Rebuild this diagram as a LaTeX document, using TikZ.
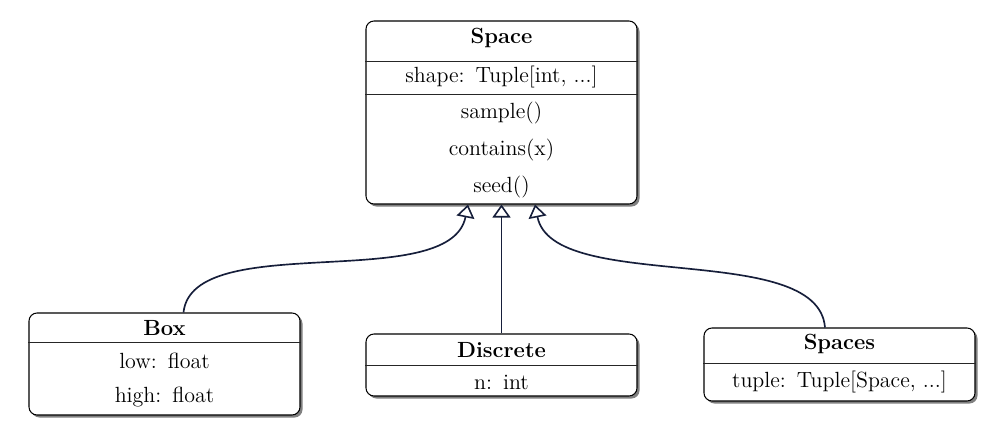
\documentclass[tikz,border=0pt]{standalone}
\usepackage{xcolor}
\usepackage{tikz}
\usetikzlibrary{arrows.meta,positioning,shadows,calc}

\definecolor{linknavy}{RGB}{22,30,58}

\tikzset{
    classbox/.style={draw=black, line width=0.6pt, rounded corners=0.16cm, fill=white,
        minimum width=5.42cm, inner sep=0pt,
        drop shadow={shadow xshift=0.05cm, shadow yshift=-0.05cm, fill=black!50, opacity=1}},
    classtitle/.style={font=\fontsize{12.5}{14}\selectfont\bfseries, inner sep=0pt},
    member/.style={font=\fontsize{12.5}{14}\selectfont, inner sep=0pt},
    sepline/.style={line width=0.45pt, black!85},
    inherit/.style={line width=0.95pt, linknavy,
        -{Triangle[open, width=0.36cm, length=0.26cm, line width=0.9pt]}}
}

\begin{document}
\begin{tikzpicture}
    \useasboundingbox (0,0) rectangle (20.02,-8.54);

    % Base class
    \node[classbox, minimum height=3.66cm] (space) at (10.03,-2.25) {};
    \node[classtitle] (spacetitle) at (10.03,-0.76) {Space};
    \draw[sepline] (space.west |- 0,-1.22) -- (space.east |- 0,-1.22);
    \node[member] (spaceshape) at (10.03,-1.55) {shape:\enspace Tuple[int, ...]};
    \draw[sepline] (space.west |- 0,-1.88) -- (space.east |- 0,-1.88);
    \node[member] (spacesample) at (10.03,-2.26) {sample()};
    \node[member] (spacecontains) at (10.03,-3.00) {contains(x)};
    \node[member] (spaceseed) at (10.03,-3.74) {seed()};

    % Box
    \node[classbox, minimum height=2.04cm] (box) at (3.29,-7.28) {};
    \node[classtitle] (boxtitle) at (3.29,-6.57) {Box};
    \draw[sepline] (box.west |- 0,-6.84) -- (box.east |- 0,-6.84);
    \node[member] (boxlow) at (3.29,-7.21) {low:\enspace float};
    \node[member] (boxhigh) at (3.29,-7.95) {high:\enspace float};

    % Discrete
    \node[classbox, minimum height=1.24cm] (discrete) at (10.03,-7.30) {};
    \node[classtitle] (discretetitle) at (10.03,-7.00) {Discrete};
    \draw[sepline] (discrete.west |- 0,-7.30) -- (discrete.east |- 0,-7.30);
    \node[member] (discreten) at (10.03,-7.64) {n:\enspace int};

    % Spaces
    \node[classbox, minimum height=1.46cm] (spaces) at (16.79,-7.29) {};
    \node[classtitle] (spacestitle) at (16.79,-6.88) {Spaces};
    \draw[sepline] (spaces.west |- 0,-7.26) -- (spaces.east |- 0,-7.26);
    \node[member] (spacestuple) at (16.79,-7.64) {tuple:\enspace Tuple[Space, ...]};

    % Inheritance links
    \draw[inherit] ($(box.north)+(0.38,0)$) .. controls +(0.18,1.68) and +(-0.36,-1.8) .. ($(space.south)+(-0.67,0)$);
    \draw[inherit] (discrete.north) -- (space.south);
    \draw[inherit] ($(spaces.north)+(-0.29,0)$) .. controls +(-0.14,1.76) and +(0.36,-1.8) .. ($(space.south)+(0.67,0)$);
\end{tikzpicture}
\end{document}
